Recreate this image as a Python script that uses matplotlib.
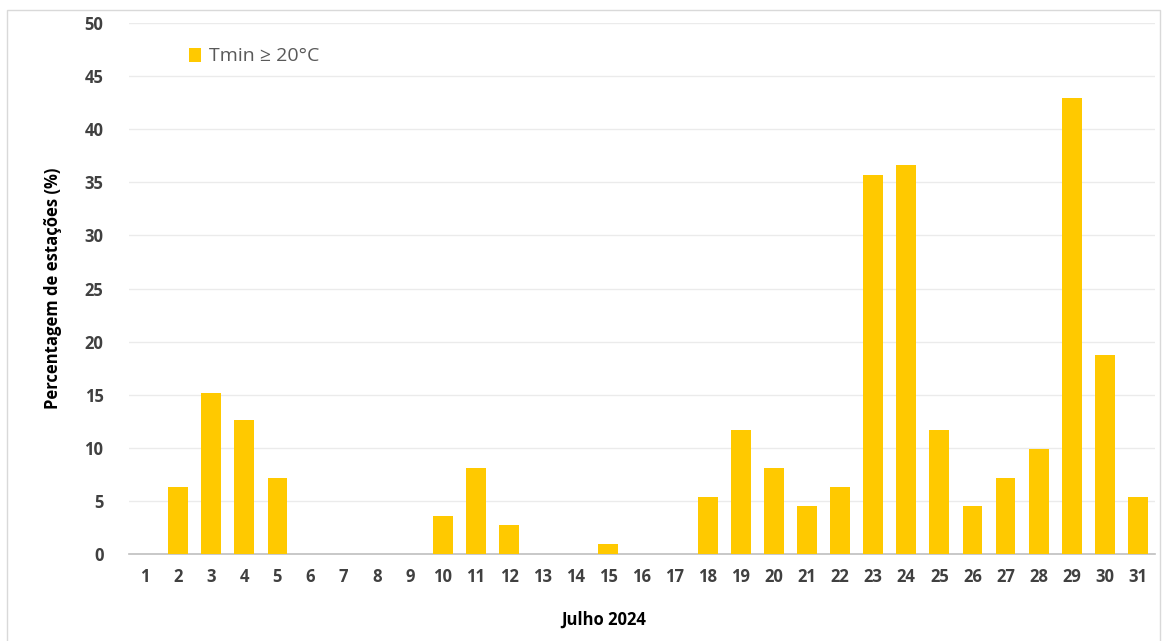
import numpy as np
import matplotlib.pyplot as plt
from matplotlib.patches import Rectangle

dias = list(range(1, 32))
percentagem = [0, 6.3, 15.2, 12.6, 7.2, 0, 0, 0, 0, 3.6, 8.1, 2.7, 0, 0, 0.9,
               0, 0, 5.4, 11.7, 8.1, 4.5, 6.3, 35.7, 36.6, 11.7, 4.5, 7.2, 9.9,
               42.9, 18.7, 5.4]
legenda = 'Tmin ≥ 20°C'

plt.rcParams['font.family'] = ['Open Sans', 'DejaVu Sans']
cor_barra = '#FFC900'
cor_texto = '#404040'

fig = plt.figure(figsize=(11.66, 6.41), dpi=100)
ax = fig.add_axes([128.5/1166, 1 - 554/641, (1154.5 - 128.5)/1166, (554 - 23)/641])

ax.bar(dias, percentagem, width=0.6, color=cor_barra, label=legenda, zorder=3)
ax.set_xlim(0.5, 31.5)
ax.set_ylim(0, 50)
ax.set_xticks(dias)
ax.set_yticks(np.arange(0, 51, 5))
ax.grid(axis='y', color='#EBEBEB', linewidth=1, zorder=0)
for s in ['top', 'right', 'left']:
    ax.spines[s].set_visible(False)
ax.spines['bottom'].set_color('#BFBFBF')
ax.spines['bottom'].set_linewidth(1.2)
ax.tick_params(axis='both', length=0, labelsize=12, colors=cor_texto)
ax.tick_params(axis='x', pad=10)
ax.tick_params(axis='y', pad=18)
for lab in ax.get_xticklabels() + ax.get_yticklabels():
    lab.set_fontweight('bold')

ax.set_xlabel('Julho 2024', fontsize=12, fontweight='bold', color='black', labelpad=20)
ax.xaxis.set_label_coords(0.463, -0.107)
ax.set_ylabel('Percentagem de estações (%)', fontsize=12, fontweight='bold',
              color='black', labelpad=16)

leg = ax.legend(loc='upper left', bbox_to_anchor=(0.042, 0.987), frameon=False,
                fontsize=14, handlelength=0.6, handleheight=0.75, handletextpad=0.4)
for t in leg.get_texts():
    t.set_color('#595959')

fig.patches.append(Rectangle((7/1166, -0.01), (1160 - 7)/1166, 1 - 10/641 + 0.01,
                             transform=fig.transFigure, fill=False,
                             edgecolor='#D9D9D9', linewidth=1))

fig.savefig('out.png', dpi=100)
